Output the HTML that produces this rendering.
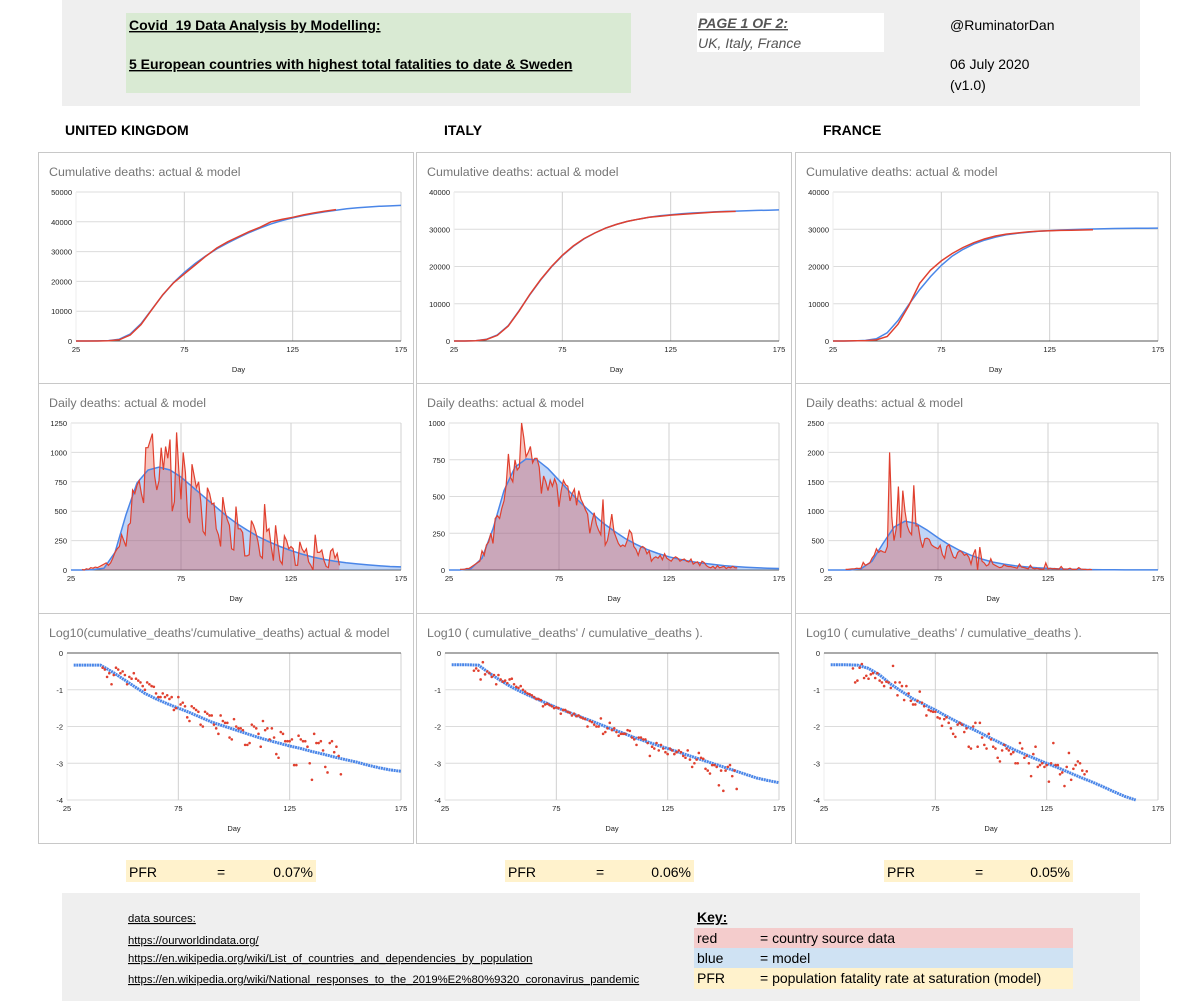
<!DOCTYPE html>
<html><head><meta charset="utf-8">
<style>
body{margin:0;background:#fff;}
svg{display:block;}
text{font-family:"Liberation Sans",Arial,sans-serif;}
.nar{font-family:"Liberation Sans Narrow","Liberation Sans",sans-serif;}
</style></head>
<body>
<svg id="s" width="1200" height="1001" viewBox="0 0 1200 1001" xmlns="http://www.w3.org/2000/svg">
  <rect x="62" y="0" width="1078" height="106" fill="#efefef"/>
  <rect x="126" y="13" width="505" height="80" fill="#d9ead3"/>
  <text x="129" y="30" font-size="14" font-weight="bold" text-decoration="underline">Covid_19 Data Analysis by Modelling:</text>
  <text x="129" y="69" font-size="14" font-weight="bold" text-decoration="underline">5 European countries with highest total fatalities to date &amp; Sweden</text>
  <rect x="697" y="13" width="187" height="39" fill="#fff"/>
  <text x="698" y="28" font-size="14" font-style="italic" font-weight="bold" fill="#555" text-decoration="underline">PAGE 1 OF 2:</text>
  <text x="698" y="48" font-size="14" font-style="italic" fill="#555">UK, Italy, France</text>
  <text x="950" y="30" font-size="14">@RuminatorDan</text>
  <text x="950" y="69" font-size="14">06 July 2020</text>
  <text x="950" y="90" font-size="14">(v1.0)</text>
  <text x="65" y="135" font-size="14" font-weight="bold">UNITED KINGDOM</text>
  <text x="444" y="135" font-size="14" font-weight="bold">ITALY</text>
  <text x="823" y="135" font-size="14" font-weight="bold">FRANCE</text>

  <g id="charts"></g>

  <g>
    <rect x="126" y="860" width="190" height="22" fill="#fff2cc"/>
    <text x="129" y="877" font-size="14">PFR</text><text x="217" y="877" font-size="14">=</text>
    <text x="313" y="877" font-size="14" text-anchor="end">0.07%</text>
  </g>
  <g>
    <rect x="505" y="860" width="189" height="22" fill="#fff2cc"/>
    <text x="508" y="877" font-size="14">PFR</text><text x="596" y="877" font-size="14">=</text>
    <text x="691" y="877" font-size="14" text-anchor="end">0.06%</text>
  </g>
  <g>
    <rect x="884" y="860" width="189" height="22" fill="#fff2cc"/>
    <text x="887" y="877" font-size="14">PFR</text><text x="975" y="877" font-size="14">=</text>
    <text x="1070" y="877" font-size="14" text-anchor="end">0.05%</text>
  </g>

  <rect x="62" y="893" width="1078" height="108" fill="#efefef"/>
  <text class="nar" x="128" y="922" font-size="11.3" text-decoration="underline">data sources:</text>
  <text class="nar" x="128" y="944" font-size="11.3" text-decoration="underline">https://ourworldindata.org/</text>
  <text class="nar" x="128" y="962" font-size="11.3" text-decoration="underline">https://en.wikipedia.org/wiki/List_of_countries_and_dependencies_by_population</text>
  <text class="nar" x="128" y="983" font-size="11.3" text-decoration="underline">https://en.wikipedia.org/wiki/National_responses_to_the_2019%E2%80%9320_coronavirus_pandemic</text>
  <text x="697" y="922" font-size="14" font-weight="bold" text-decoration="underline">Key:</text>
  <g><rect x="694" y="928" width="379" height="20" fill="#f4cccc"/><text x="697" y="943" font-size="14">red</text><text x="760" y="943" font-size="14">= country source data</text></g>
  <g><rect x="694" y="948" width="379" height="20" fill="#cfe2f3"/><text x="697" y="963" font-size="14">blue</text><text x="760" y="963" font-size="14">= model</text></g>
  <g><rect x="694" y="968" width="379" height="21" fill="#fff2cc"/><text x="697" y="983" font-size="14">PFR</text><text x="760" y="983" font-size="14">= population fatality rate at saturation (model)</text></g>
</svg>
<script>
// ---- Data (cumulative arrays: every 5 days starting day 25) ----
const ukCumActual = [0,0,0,100,400,2000,5500,10500,15500,19500,22500,25500,28500,31200,33300,35000,36700,38200,40000,40800,41500,42300,43000,43600,44100];
const ukCumModel  = [0,0,20,150,600,2300,5800,10600,15400,19600,23000,26000,28600,30900,32900,34700,36400,37900,39300,40400,41300,42100,42800,43400,43900,44350,44700,44980,45200,45350,45500];
const itCumActual = [0,10,50,400,1500,4000,8000,12500,16500,20000,23000,25500,27500,29000,30300,31300,32100,32700,33200,33500,33800,34000,34200,34400,34600,34700,34800];
const itCumModel  = [0,10,80,450,1600,4100,8100,12400,16400,19900,22900,25400,27400,29000,30300,31300,32100,32700,33200,33600,33900,34150,34350,34500,34650,34780,34880,34970,35050,35120,35200];
const frCumActual = [0,0,50,100,300,1200,4500,9500,15500,19000,21500,23500,25100,26400,27400,28200,28700,29000,29300,29500,29600,29700,29750,29800,29850];
const frCumModel  = [0,0,20,150,600,2200,5500,9800,13800,17300,20300,22800,24600,26000,27100,27900,28500,28900,29200,29450,29650,29800,29900,30000,30080,30150,30200,30230,30260,30280,30300];

// ---- Daily deaths actual (one value per day) ----
const ukDailyStart = 30;
const ukDaily = [5,0,10,5,20,15,25,20,30,40,50,60,40,60,100,150,180,200,300,250,200,380,400,680,650,720,760,650,570,1040,1040,1100,1160,800,680,760,1040,850,1050,950,1110,500,580,1170,850,600,1000,830,450,400,900,800,700,750,580,330,300,700,650,560,570,350,300,200,620,500,430,380,180,170,540,350,350,320,120,120,130,420,380,320,240,120,100,560,330,350,200,80,380,220,80,50,290,250,180,200,180,40,40,240,180,150,180,70,40,0,300,150,150,170,80,30,20,160,180,100,140,40];
const itDailyStart = 30;
const itDaily = [5,5,5,10,10,20,30,40,50,60,130,100,170,190,250,180,350,370,350,420,470,580,790,630,600,750,680,700,1000,900,770,800,840,730,760,760,700,520,640,600,540,610,570,620,580,430,540,610,580,570,470,520,550,440,540,480,450,410,380,250,330,390,310,270,240,480,170,200,280,380,260,220,180,160,170,160,200,270,250,160,140,100,150,160,150,110,130,60,80,90,80,100,70,110,80,70,60,80,90,80,60,70,75,60,55,75,40,50,55,30,60,50,30,20,15,25,10,30,15,20,25,10,20,15,25,15,15];
const frDailyStart = 33;
const frDaily = [10,10,15,20,20,30,25,30,130,80,100,120,200,250,360,300,330,310,300,400,2000,900,500,700,1420,550,1350,1000,750,650,600,1440,750,750,520,380,530,540,520,430,400,380,360,420,260,200,400,430,320,220,200,300,330,300,250,270,220,100,260,350,0,390,150,120,70,90,190,100,80,60,40,50,90,70,60,60,50,40,30,100,50,40,30,20,80,30,20,30,20,15,10,120,20,30,20,25,20,15,60,10,15,15,30,10,10,10,40,15,10,10,5,10,5];

// ---- Daily deaths model (every 5 days from day 25) ----
const ukDailyModel = [0,0,3,15,150,470,740,850,875,850,790,710,630,550,470,400,340,285,240,200,165,135,110,90,75,62,52,43,36,30,26];
const itDailyModel = [0,0,10,80,280,540,700,755,750,690,610,530,455,385,320,265,215,175,140,112,90,72,58,47,38,30,24,19,15,12,10];
const frDailyModel = [0,0,0,20,150,450,730,830,790,680,550,430,330,250,185,135,100,72,52,38,27,19,14,10,7,5,3,2,2,1,1];

// ---- Log10 ratio model (every 5 days from day 25; first point is plotted from day 28) ----
const ukLogModel = [-0.33,-0.33,-0.33,-0.33,-0.5,-0.7,-0.9,-1.1,-1.25,-1.38,-1.5,-1.62,-1.75,-1.88,-1.98,-2.08,-2.18,-2.28,-2.37,-2.45,-2.53,-2.6,-2.68,-2.75,-2.83,-2.9,-2.97,-3.05,-3.12,-3.18,-3.22];
const itLogModel = [-0.32,-0.32,-0.32,-0.33,-0.55,-0.75,-0.93,-1.08,-1.22,-1.35,-1.48,-1.6,-1.72,-1.83,-1.95,-2.07,-2.18,-2.3,-2.4,-2.5,-2.6,-2.7,-2.8,-2.9,-3.0,-3.1,-3.2,-3.3,-3.4,-3.47,-3.53];
const frLogModel = [-0.32,-0.32,-0.32,-0.33,-0.42,-0.6,-0.85,-1.05,-1.25,-1.4,-1.55,-1.72,-1.88,-2.02,-2.17,-2.32,-2.47,-2.62,-2.75,-2.88,-3.0,-3.12,-3.25,-3.38,-3.5,-3.63,-3.77,-3.9,-4.0];

// ---- Log10 ratio actual (one value per day) ----
const ukLogStart = 41;
const ukLog = [-0.4,-0.45,-0.65,-0.55,-0.85,-0.6,-0.4,-0.45,-0.55,-0.5,-0.6,-0.85,-0.65,-0.7,-0.55,-0.7,-0.75,-0.8,-0.9,-1.0,-0.8,-0.85,-0.9,-0.92,-1.1,-1.2,-1.2,-1.1,-1.2,-1.15,-1.25,-1.2,-1.55,-1.5,-1.2,-1.4,-1.35,-1.45,-1.75,-1.85,-1.45,-1.5,-1.55,-1.6,-1.95,-2.0,-1.6,-1.65,-1.7,-1.7,-1.95,-2.05,-2.2,-1.7,-1.85,-1.9,-1.9,-2.3,-2.35,-1.8,-2.0,-2.05,-2.05,-2.1,-2.5,-2.5,-2.45,-1.95,-2.0,-2.05,-2.2,-2.55,-1.85,-2.1,-2.05,-2.35,-2.05,-2.3,-2.75,-2.85,-2.15,-2.2,-2.4,-2.4,-2.4,-2.35,-3.05,-3.05,-2.25,-2.35,-2.4,-2.4,-2.55,-3.0,-3.45,-2.2,-2.45,-2.45,-2.4,-2.65,-3.1,-3.25,-2.45,-2.4,-2.7,-2.55,-2.8,-3.3];
const itLogStart = 38;
const itLog = [-0.48,-0.42,-0.48,-0.72,-0.25,-0.58,-0.5,-0.55,-0.65,-0.6,-0.85,-0.6,-0.72,-0.78,-0.75,-0.82,-0.72,-0.7,-0.85,-0.92,-0.95,-0.9,-1.0,-1.05,-1.1,-1.12,-1.15,-1.2,-1.25,-1.25,-1.28,-1.45,-1.4,-1.38,-1.42,-1.45,-1.5,-1.48,-1.5,-1.65,-1.55,-1.55,-1.6,-1.62,-1.7,-1.65,-1.72,-1.7,-1.75,-1.78,-1.8,-2.0,-1.85,-1.88,-1.95,-2.0,-2.0,-1.78,-2.2,-2.15,-2.05,-1.9,-2.1,-2.05,-2.15,-2.25,-2.2,-2.2,-2.2,-2.1,-2.12,-2.3,-2.35,-2.5,-2.3,-2.3,-2.35,-2.35,-2.45,-2.8,-2.55,-2.6,-2.45,-2.65,-2.5,-2.6,-2.7,-2.75,-2.6,-2.65,-2.75,-2.7,-2.65,-2.7,-2.8,-2.85,-2.65,-2.9,-3.1,-3.0,-2.9,-2.72,-2.85,-2.88,-3.15,-3.2,-3.28,-3.05,-3.05,-3.1,-3.6,-3.2,-3.75,-3.2,-3.1,-3.05,-3.35,-3.2,-3.7];
const frLogStart = 38;
const frLog = [-0.42,-0.8,-0.75,-0.4,-0.3,-0.68,-0.62,-0.7,-0.58,-0.55,-0.68,-0.55,-0.75,-0.8,-0.9,-0.78,-0.8,-0.95,-0.35,-0.8,-1.15,-0.8,-0.9,-1.28,-0.9,-1.1,-1.3,-1.4,-1.4,-1.3,-1.05,-1.35,-1.45,-1.7,-1.55,-1.58,-1.6,-1.6,-1.75,-1.78,-1.98,-1.8,-1.75,-1.9,-2.05,-2.2,-2.28,-1.95,-1.9,-1.95,-2.15,-2.05,-2.55,-2.6,-2.0,-1.9,-2.55,-1.9,-2.3,-2.5,-2.6,-2.2,-2.35,-2.55,-2.6,-2.85,-2.95,-2.65,-2.5,-2.6,-2.65,-2.75,-2.7,-3.0,-3.0,-2.45,-2.6,-2.85,-2.8,-3.0,-3.35,-2.75,-2.55,-3.1,-3.05,-3.0,-3.1,-3.05,-3.5,-3.0,-2.45,-3.05,-3.05,-3.3,-3.25,-3.62,-3.1,-2.72,-3.45,-3.15,-3.05,-2.95,-3.0,-3.2,-3.3,-3.22];

// ---- Tick labels ----
const xTicks = [25,75,125,175];
const ukCumTicks = [0,10000,20000,30000,40000,50000];
const euCumTicks = [0,10000,20000,30000,40000];
const ukDailyTicks = [0,250,500,750,1000,1250];
const itDailyTicks = [0,250,500,750,1000];
const frDailyTicks = [0,500,1000,1500,2000,2500];
const logTicks = [0,-1,-2,-3,-4];

const NS = 'http://www.w3.org/2000/svg';
const root = document.getElementById('charts');
function mk(tag, attrs, parent){
  const e = document.createElementNS(NS, tag);
  for (const k in attrs) e.setAttribute(k, attrs[k]);
  (parent||root).appendChild(e); return e;
}
const RED = '#e0402f', BLUE = '#4a86e8';

function chart(px, py, h, plotL, title, yTicks, kind, name, series){
  const g = mk('g', {});
  
  
  mk('rect', {x:px+0.5, y:py+0.5, width:375, height:h, fill:'#fff', stroke:'#c8c8c8'}, g);
  const t = mk('text', {x:px+11, y:py+24, 'font-size':12.4, fill:'#757575'}, g);
  t.textContent = title;
  
  
  const L = px+plotL, R = px+363, T = py+40, B = py+(kind==='cum'?189:187);
  const ymin = Math.min(...yTicks), ymax = Math.max(...yTicks);
  const X = d => L + (d-25)/150*(R-L);
  const Y = v => B - (v-ymin)/(ymax-ymin)*(B-T);
  yTicks.forEach(v => {
    mk('line', {x1:L, x2:R, y1:Y(v), y2:Y(v), stroke:'#dcdcdc', 'stroke-width':1}, g);
    const tl = mk('text', {x:L-4, y:Y(v)+3, 'font-size':7.5, 'text-anchor':'end', fill:'#222'}, g);
    tl.textContent = v;
  });
  xTicks.forEach(d => {
    mk('line', {x1:X(d), x2:X(d), y1:T, y2:B, stroke:(d===25?'#eee':'#d0d0d0'), 'stroke-width':1}, g);
    const tl = mk('text', {x:X(d), y:B+11, 'font-size':7.5, 'text-anchor':'middle', fill:'#222'}, g);
    tl.textContent = d;
  });
  const base = kind==='log' ? T : Y(0);
  mk('line', {x1:L, x2:R, y1:base, y2:base, stroke:'#555', 'stroke-width':1}, g);
  const dl = mk('text', {x:(L+R)/2, y:B+31, 'font-size':7.5, 'text-anchor':'middle', fill:'#222'}, g);
  dl.textContent = 'Day';
  
  
  series(g, X, Y, B);
}
function pts5(arr, X, Y, clipMin){
  return arr.map((v,i)=>X(25+5*i).toFixed(1)+','+Y(Math.max(v,clipMin)).toFixed(1)).join(' ');
}
function ptsDay(arr, start, X, Y){
  return arr.map((v,i)=>X(start+i).toFixed(1)+','+Y(v).toFixed(1)).join(' ');
}
function cumSeries(actual, model){
  return (g, X, Y) => {
    const m = mk('polyline', {points:pts5(model,X,Y,-1e9), fill:'none', stroke:BLUE, 'stroke-width':1.5}, g);
    
    
    const a = mk('polyline', {points:pts5(actual,X,Y,-1e9), fill:'none', stroke:RED, 'stroke-width':1.5}, g);
    
    
  };
}
function dailySeries(actual, start, model){
  return (g, X, Y) => {
    const y0 = Y(0).toFixed(1);
    const mp = pts5(model,X,Y,-1e9);
    const ma = mk('polygon', {points:X(25)+','+y0+' '+mp+' '+X(175)+','+y0, fill:'rgba(74,134,232,0.35)'}, g);
    
    
    const ap = ptsDay(actual,start,X,Y);
    const aa = mk('polygon', {points:X(start)+','+y0+' '+ap+' '+X(start+actual.length-1)+','+y0, fill:'rgba(224,64,47,0.3)'}, g);
    
    
    const ml = mk('polyline', {points:mp, fill:'none', stroke:BLUE, 'stroke-width':1.5}, g);
    
    
    const al = mk('polyline', {points:ap, fill:'none', stroke:RED, 'stroke-width':1.2}, g);
    
    
  };
}
function logSeries(actual, start, model){
  return (g, X, Y) => {
    const p = model.map((v,i)=>{const d = i===0?28:25+5*i; return X(d).toFixed(1)+','+Y(Math.max(v,-4)).toFixed(1);}).join(' ');
    const ml = mk('polyline', {points:p, fill:'none', stroke:BLUE, 'stroke-width':3, 'stroke-dasharray':'2 0.6'}, g);
    
    
    actual.forEach((v,i)=>{
      const c = mk('circle', {cx:X(start+i), cy:Y(v), r:1.3, fill:RED}, g);
      
      
    });
  };
}
const cols = [
  {x:38, n:'uk', cumA:ukCumActual, cumM:ukCumModel, cumT:ukCumTicks, d:ukDaily, ds:ukDailyStart, dm:ukDailyModel, dT:ukDailyTicks, l:ukLog, ls:ukLogStart, lm:ukLogModel, lt:"Log10(cumulative_deaths'/cumulative_deaths) actual & model"},
  {x:416, n:'italy', cumA:itCumActual, cumM:itCumModel, cumT:euCumTicks, d:itDaily, ds:itDailyStart, dm:itDailyModel, dT:itDailyTicks, l:itLog, ls:itLogStart, lm:itLogModel, lt:"Log10 ( cumulative_deaths' / cumulative_deaths )."},
  {x:795, n:'france', cumA:frCumActual, cumM:frCumModel, cumT:euCumTicks, d:frDaily, ds:frDailyStart, dm:frDailyModel, dT:frDailyTicks, l:frLog, ls:frLogStart, lm:frLogModel, lt:"Log10 ( cumulative_deaths' / cumulative_deaths )."}
];
cols.forEach(c=>{
  chart(c.x, 152, 231, 38, 'Cumulative deaths: actual & model', c.cumT, 'cum', c.n+'-cumulative-chart', cumSeries(c.cumA, c.cumM));
  chart(c.x, 383, 230, 33, 'Daily deaths: actual & model', c.dT, 'daily', c.n+'-daily-chart', dailySeries(c.d, c.ds, c.dm));
  chart(c.x, 613, 230, 29, c.lt, logTicks, 'log', c.n+'-log-chart', logSeries(c.l, c.ls, c.lm));
});
</script>
</body></html>
